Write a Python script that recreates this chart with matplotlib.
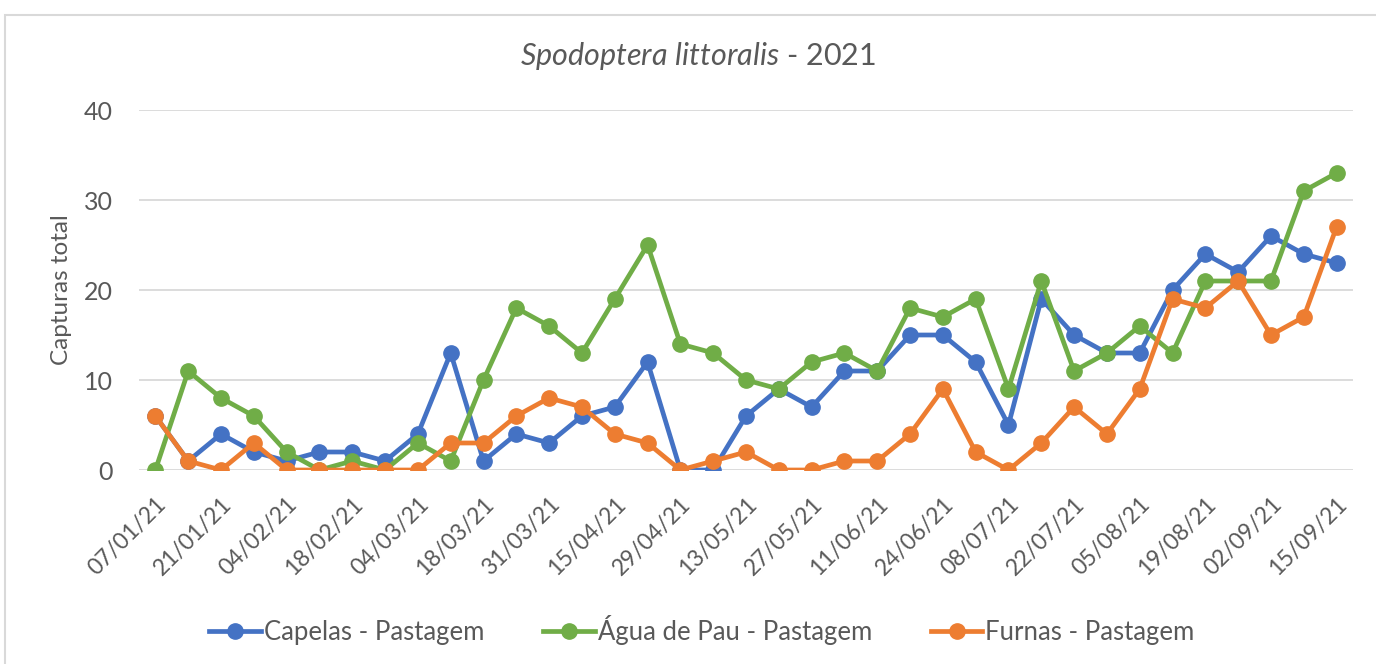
import matplotlib
matplotlib.use("Agg")
import matplotlib.pyplot as plt
from matplotlib.patches import Rectangle

plt.rcParams['font.family'] = ['Lato', 'DejaVu Sans']
plt.rcParams['mathtext.fontset'] = 'custom'
plt.rcParams['mathtext.it'] = 'Lato:italic'
plt.rcParams['mathtext.rm'] = 'Lato'

dates = ["07/01/21", "14/01/21", "21/01/21", "28/01/21", "04/02/21", "11/02/21",
         "18/02/21", "25/02/21", "04/03/21", "11/03/21", "18/03/21", "25/03/21",
         "31/03/21", "08/04/21", "15/04/21", "22/04/21", "29/04/21", "06/05/21",
         "13/05/21", "20/05/21", "27/05/21", "03/06/21", "11/06/21", "17/06/21",
         "24/06/21", "01/07/21", "08/07/21", "15/07/21", "22/07/21", "29/07/21",
         "05/08/21", "12/08/21", "19/08/21", "26/08/21", "02/09/21", "09/09/21",
         "15/09/21"]

capelas = [6, 1, 4, 2, 1, 2, 2, 1, 4, 13, 1, 4, 3, 6, 7, 12, 0, 0, 6, 9, 7, 11,
           11, 15, 15, 12, 5, 19, 15, 13, 13, 20, 24, 22, 26, 24, 23]
agua_de_pau = [0, 11, 8, 6, 2, 0, 1, 0, 3, 1, 10, 18, 16, 13, 19, 25, 14, 13, 10,
               9, 12, 13, 11, 18, 17, 19, 9, 21, 11, 13, 16, 13, 21, 21, 21, 31, 33]
furnas = [6, 1, 0, 3, 0, 0, 0, 0, 0, 3, 3, 6, 8, 7, 4, 3, 0, 1, 2, 0, 0, 1, 1, 4,
          9, 2, 0, 3, 7, 4, 9, 19, 18, 21, 15, 17, 27]

series = [("Capelas - Pastagem", capelas, "#4472C4"),
          ("Água de Pau - Pastagem", agua_de_pau, "#70AD47"),
          ("Furnas - Pastagem", furnas, "#ED7D31")]

W, H = 1376, 664
fig = plt.figure(figsize=(W / 100, H / 100), dpi=100)
ax = fig.add_axes([139 / W, 1 - 470 / H, (1353 - 139) / W, 360 / H])

x = list(range(len(dates)))
for name, vals, col in series:
    ax.plot(x, vals, color=col, lw=3.4, marker='o', markersize=11, label=name)

ax.set_xlim(-0.5, len(dates) - 0.5)
ax.set_ylim(0, 40)
ax.set_yticks([0, 10, 20, 30, 40])
ax.grid(axis='y', color='#D9D9D9', lw=1.3)
ax.set_axisbelow(True)
for s in ax.spines.values():
    s.set_visible(False)
ax.tick_params(length=0, colors='#595959')
ax.tick_params(axis='y', pad=19, labelsize=18)
ax.set_xticks(x[::2])
ax.set_xticklabels(dates[::2], rotation=45, ha='right', rotation_mode='anchor')
ax.tick_params(axis='x', pad=17, labelsize=16.5)
ax.set_ylabel("Capturas total", fontsize=17.5, color='#595959')
ax.yaxis.label.set_va('center')
ax.yaxis.set_label_coords((62 - 139) / 1214, 0.5)

fig.text(698 / W, 1 - 56 / H, r"$\mathit{Spodoptera\ littoralis}$ - 2021",
         ha='center', va='center', fontsize=22, color='#595959')

leg = fig.legend(loc='center', bbox_to_anchor=(702 / W, 1 - 630 / H), ncol=3,
                 frameon=False, fontsize=18.5, handlelength=2.0, columnspacing=2.3,
                 handletextpad=0.12)
for t in leg.get_texts():
    t.set_color('#595959')

fig.patches.append(Rectangle((4.5 / W, -0.1), 1.2, (H - 14.5) / H + 0.1, fill=False,
                             edgecolor='#D9D9D9', lw=1.5, transform=fig.transFigure))

fig.savefig("out.png", dpi=100)
